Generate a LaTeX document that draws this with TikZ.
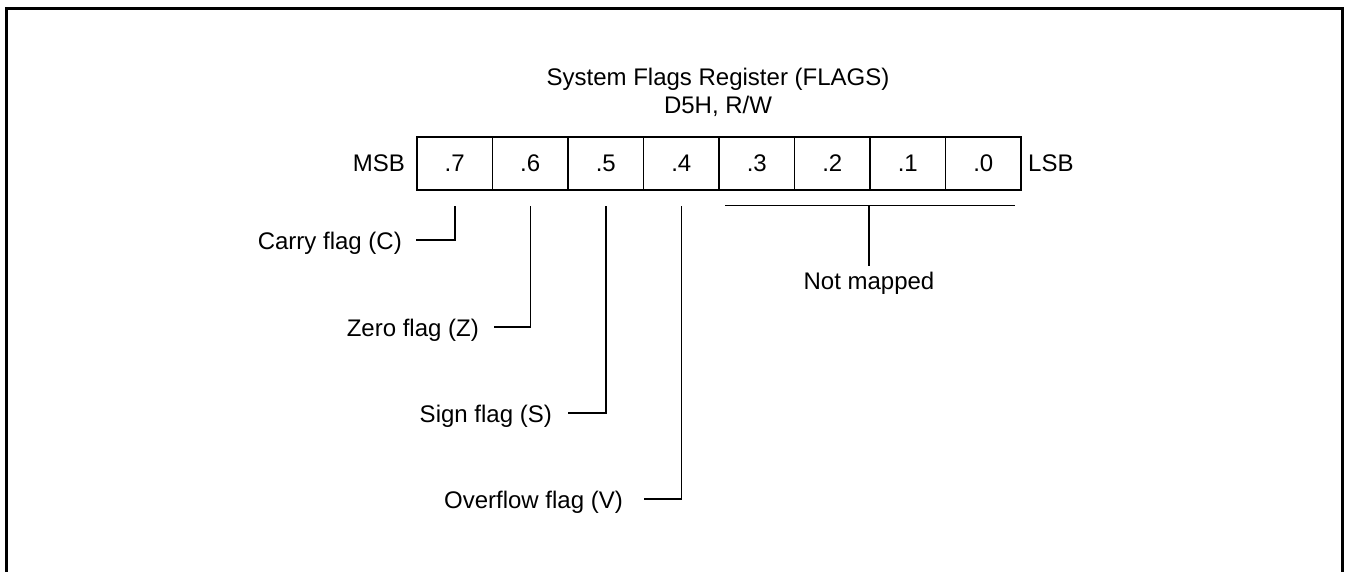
\documentclass[tikz,border=0pt]{standalone}
\usepackage{fontspec}
\setmainfont{Liberation Sans}
\begin{document}
\begin{tikzpicture}[x=1pt,y=-1pt,
  txt/.style={font=\fontsize{24}{28}\selectfont, inner sep=0pt},
  cell/.style={txt, draw, line width=1.5pt, minimum width=75.5pt, minimum height=53pt, anchor=center},
  wire/.style={line width=1.5pt},
  frame/.style={line width=3pt}]
\useasboundingbox (0,0) rectangle (1346,572);
% frame (open at bottom)
\draw[frame] (6.5,572) -- (6.5,8.5) -- (1342.5,8.5) -- (1342.5,572);
% title
\node[txt, anchor=base] (t1) at (718,86) {System Flags Register (FLAGS)};
\node[txt, anchor=base] (t2) at (718,114) {D5H, R/W};
% register cells
\node[cell] (c7) at (454.75,163.5) {.7};
\node[cell] (c6) at (530.25,163.5) {.6};
\node[cell] (c5) at (605.75,163.5) {.5};
\node[cell] (c4) at (681.25,163.5) {.4};
\node[cell] (c3) at (756.75,163.5) {.3};
\node[cell] (c2) at (832.25,163.5) {.2};
\node[cell] (c1) at (907.75,163.5) {.1};
\node[cell] (c0) at (983.25,163.5) {.0};
\node[txt, anchor=base east] (msb) at (405,172) {MSB};
\node[txt, anchor=base west] (lsb) at (1028,172) {LSB};
% flag labels
\node[txt, anchor=base east] (carry) at (402,249) {Carry flag (C)};
\node[txt, anchor=base east] (zero) at (479,336) {Zero flag (Z)};
\node[txt, anchor=base east] (sign) at (552,422) {Sign flag (S)};
\node[txt, anchor=base east] (over) at (623,508) {Overflow flag (V)};
\node[txt, anchor=base] (nm) at (869,289) {Not mapped};
% leader start points
\coordinate (lc) at (416,240);
\coordinate (lz) at (494,327);
\coordinate (ls) at (568,413);
\coordinate (lv) at (644,499);
\draw[wire] (lc) -| ([yshift=-15pt]c7.south);
\draw[wire] (lz) -| ([yshift=-15pt]c6.south);
\draw[wire] (ls) -| ([yshift=-15pt]c5.south);
\draw[wire] (lv) -| ([yshift=-15pt]c4.south);
% not mapped bracket
\coordinate (b3) at ([xshift=7pt,yshift=-15pt]c3.south west);
\coordinate (b0) at ([xshift=-7pt,yshift=-15pt]c0.south east);
\draw[wire] (b3) -- (b0);
\draw[wire] (b3 -| nm) -- ([yshift=5pt]nm.north);
\end{tikzpicture}
\end{document}
